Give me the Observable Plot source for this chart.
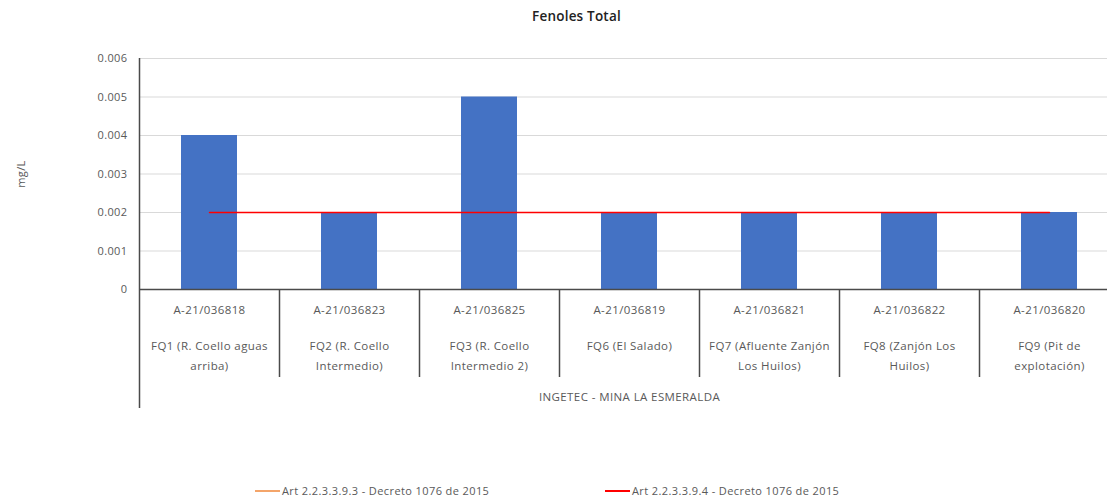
<!DOCTYPE html>
<html><head><meta charset="utf-8">
<script src="https://cdn.jsdelivr.net/npm/d3@7"></script>
<script src="https://cdn.jsdelivr.net/npm/@observablehq/plot@0.6"></script>
<style>
body{margin:0;background:#fff;font-family:"Open Sans",sans-serif;}
#wrap{position:relative;width:1107px;height:499px;overflow:hidden;}
#title{position:absolute;top:7px;left:0;width:1153px;text-align:center;font-size:13.5px;color:#222;font-weight:600;letter-spacing:0.2px;}
#chart{position:absolute;top:0;left:0;}
#chart svg text{letter-spacing:0.4px;}
.leg{position:absolute;top:483px;font-size:11px;color:#595959;display:flex;align-items:center;white-space:nowrap;letter-spacing:0.4px;}
.sw{display:inline-block;width:25px;height:2px;margin-right:2px;}
</style></head><body>
<div id="wrap"><div id="chart"></div><div id="title"></div></div>
<script>
const chartTitle = "Fenoles Total";
const yLabel = "mg/L";
const sampleIds = ["A-21/036818","A-21/036823","A-21/036825","A-21/036819","A-21/036821","A-21/036822","A-21/036820"];
const stations = ["FQ1 (R. Coello aguas\narriba)","FQ2 (R. Coello\nIntermedio)","FQ3 (R. Coello\nIntermedio 2)","FQ6 (El Salado)","FQ7 (Afluente Zanjón\nLos Huilos)","FQ8 (Zanjón Los\nHuilos)","FQ9 (Pit de\nexplotación)"];
const values = [0.004, 0.002, 0.005, 0.002, 0.002, 0.002, 0.002];
const limit9393 = [null, null, null, null, null, null, null];
const limit9394 = [0.002, 0.002, 0.002, 0.002, 0.002, 0.002, 0.002];
const groupLabel = "INGETEC - MINA LA ESMERALDA";
const yTicks = [0, 0.001, 0.002, 0.003, 0.004, 0.005, 0.006];
const yTickLabels = ["0","0.001","0.002","0.003","0.004","0.005","0.006"];
const legendLabels = ["Art 2.2.3.3.9.3 - Decreto 1076 de 2015","Art 2.2.3.3.9.4 - Decreto 1076 de 2015"];
const legendColors = ["#F4A56A","#FF0000"];

const data = sampleIds.map((id, i) => ({id, station: stations[i], value: values[i], l3: limit9393[i], l4: limit9394[i]}));
const gray = "#595959";
const dark = "#4a4a4a";

const chart = Plot.plot({
  width: 1107, height: 499,
  marginTop: 58, marginBottom: 210, marginLeft: 139, marginRight: -12,
  style: {fontFamily: "'Open Sans', sans-serif", fontSize: "11px", color: gray, background: "#fff"},
  x: {domain: sampleIds, paddingInner: 0.6, paddingOuter: 0.3, axis: null},
  y: {domain: [0, 0.006]},
  marks: [
    Plot.gridY(yTicks, {stroke: "#d9d9d9", strokeOpacity: 1}),
    Plot.axisY(yTicks, {tickSize: 0, tickPadding: 12, tickFormat: (d, i) => yTickLabels[i], fill: gray, fontSize: 11,
      label: yLabel, labelAnchor: "center", labelOffset: 122, labelArrow: "none"}),
    Plot.barY(data, {x: "id", y: "value", fill: "#4472C4"}),
    Plot.line(data.filter(d => d.l3 != null), {x: "id", y: "l3", stroke: legendColors[0], strokeWidth: 1.5}),
    Plot.line(data, {x: "id", y: "l4", stroke: legendColors[1], strokeWidth: 1.5}),
    Plot.ruleY([0], {stroke: dark, strokeWidth: 1.5}),
    Plot.ruleX([sampleIds[0]], {x: d => d, dx: -70, insetBottom: -119, stroke: dark, strokeWidth: 1.5}),
    Plot.ruleX(sampleIds.slice(1), {x: d => d, dx: -70, insetTop: 231, insetBottom: -88, stroke: dark, strokeWidth: 1.5}),
    Plot.text(data, {x: "id", text: "id", frameAnchor: "bottom", dy: 21, lineAnchor: "middle", fill: gray, fontSize: 11.5}),
    Plot.text(data, {x: "id", text: "station", frameAnchor: "bottom", dy: 47, lineAnchor: "top", lineHeight: 1.7, fill: gray, fontSize: 11.5}),
    Plot.text([groupLabel], {text: d => d, frameAnchor: "bottom", dy: 108, lineAnchor: "middle", fill: gray, fontSize: 11.5})
  ]
});
document.getElementById("chart").appendChild(chart);
document.getElementById("title").textContent = chartTitle;
const wrap = document.getElementById("wrap");
[255, 605].forEach((left, i) => {
  const d = document.createElement("div");
  d.className = "leg"; d.style.left = left + "px";
  d.innerHTML = `<span class="sw" style="background:${legendColors[i]}"></span><span></span>`;
  d.lastChild.textContent = legendLabels[i];
  wrap.appendChild(d);
});
</script>
</body></html>
